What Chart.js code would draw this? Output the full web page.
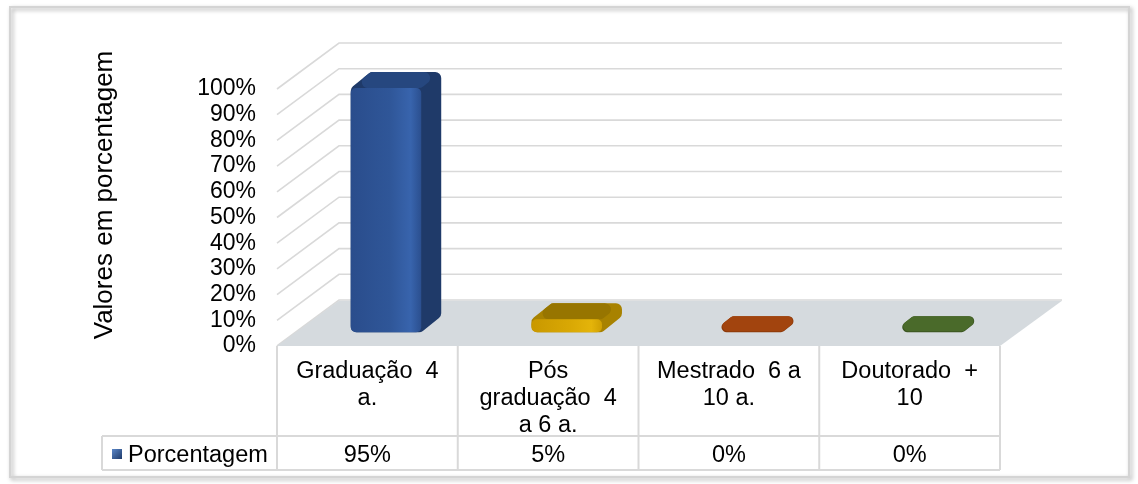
<!DOCTYPE html>
<html>
<head>
<meta charset="utf-8">
<script src="https://cdn.jsdelivr.net/npm/chart.js@4.4.1/dist/chart.umd.min.js"></script>
<style>
  html, body { margin: 0; padding: 0; background: #ffffff; }
  canvas { display: block; }
</style>
</head>
<body>
<canvas id="chart" width="1138" height="484"></canvas>
<script>
// Categories (multi-line labels as they wrap in the data table)
const categories = [
  ['Graduação  4', 'a.'],
  ['Pós', 'graduação  4', 'a 6 a.'],
  ['Mestrado  6 a', '10 a.'],
  ['Doutorado  +', '10']
];
const seriesName = 'Porcentagem';
const percentages = [95, 5, 0, 0];
const axisMin = 0;
const axisMax = 100;
const tickStep = 10;
const axisTitle = 'Valores em porcentagem';

// Face colours for each column: front gradient, side, top
const faceColors = [
  { front: ['#2a4d8c', '#2f5698', '#3864ad', '#2b4f8f'], side: '#1f3a69', top: '#26477f' },
  { front: ['#c99800', '#d9a804', '#e4b40a', '#cf9f02'], side: '#a88200', top: '#977500' },
  { front: ['#b04d12', '#b85314', '#c35c1a', '#b04d12'], side: '#8c3a0a', top: '#a2440e' },
  { front: ['#4f7030', '#557734', '#5c7f39', '#4f7030'], side: '#3c5622', top: '#4a6a2a' }
];

const FONT = "'Liberation Sans', Arial, Helvetica, sans-serif";
const WALL_DX = 62, WALL_DY = -46;      // depth of the 3-D box
const BAR_FRONT = 0.3;                   // bar front plane, fraction of depth
const BAR_DX = 20, BAR_DY = -16;         // bar thickness in depth

// polygon with rounded corners; radius clamped to half of the adjacent edges
function roundPoly(ctx, pts, r) {
  const n = pts.length;
  const len = (a, b) => Math.hypot(b[0] - a[0], b[1] - a[1]);
  const a = pts[n - 1], b = pts[0];
  ctx.beginPath();
  ctx.moveTo((a[0] + b[0]) / 2, (a[1] + b[1]) / 2);
  for (let i = 0; i < n; i++) {
    const prev = pts[(i - 1 + n) % n], p = pts[i], q = pts[(i + 1) % n];
    const rr = Math.min(r, len(prev, p) / 2, len(p, q) / 2);
    if (rr < 0.5) ctx.lineTo(p[0], p[1]);
    else ctx.arcTo(p[0], p[1], q[0], q[1], rr);
  }
  ctx.closePath();
}

const scene3d = {
  id: 'scene3d',
  beforeDraw(chart) {
    const ctx = chart.ctx;
    ctx.save();
    ctx.fillStyle = '#ffffff';
    ctx.fillRect(0, 0, chart.width, chart.height);
    // outer frame with soft shadow
    ctx.shadowColor = 'rgba(0,0,0,0.35)';
    ctx.shadowBlur = 4;
    ctx.shadowOffsetX = 2;
    ctx.shadowOffsetY = 2;
    ctx.strokeStyle = '#d4d4d4';
    ctx.lineWidth = 2;
    ctx.strokeRect(10, 7, 1119, 470);
    ctx.restore();
  },
  beforeDatasetsDraw(chart) {
    const ctx = chart.ctx;
    const ys = chart.scales.y;
    const { left, right, bottom } = chart.chartArea;
    ctx.save();
    // walls: back gridlines and side diagonals
    ctx.strokeStyle = '#d9d9d9';
    ctx.lineWidth = 1.6;
    for (let v = axisMin; v <= axisMax; v += tickStep) {
      const y = ys.getPixelForValue(v);
      ctx.beginPath();
      ctx.moveTo(left, y);
      ctx.lineTo(left + WALL_DX, y + WALL_DY);
      ctx.lineTo(right + WALL_DX, y + WALL_DY);
      ctx.stroke();
    }
    // floor
    ctx.fillStyle = '#d5dade';
    ctx.beginPath();
    ctx.moveTo(left, bottom);
    ctx.lineTo(right, bottom);
    ctx.lineTo(right + WALL_DX, bottom + WALL_DY + 0.8);
    ctx.lineTo(left + WALL_DX, bottom + WALL_DY + 0.8);
    ctx.closePath();
    ctx.fill();
    ctx.restore();
  },
  afterDatasetsDraw(chart) {
    const ctx = chart.ctx;
    const meta = chart.getDatasetMeta(0);
    const fx = WALL_DX * BAR_FRONT, fy = WALL_DY * BAR_FRONT;
    ctx.save();
    meta.data.forEach((el, i) => {
      const p = el.getProps(['x', 'y', 'base', 'width'], true);
      const c = faceColors[i];
      const x0 = p.x - p.width / 2 + fx, x1 = p.x + p.width / 2 + fx;
      const yb = p.base + fy;
      const yt = p.y + fy;
      const h = yb - yt;
      if (h < 2) {
        // empty column: only the flat cap lying on the floor
        ctx.fillStyle = c.side;
        roundPoly(ctx, [[x0, yb], [x1, yb], [x1 + BAR_DX, yb + BAR_DY], [x0 + BAR_DX, yb + BAR_DY]], 5);
        ctx.fill();
        ctx.fillStyle = c.top;
        roundPoly(ctx, [[x0 + 0.5, yb - 1], [x1, yb - 1], [x1 + BAR_DX, yb + BAR_DY], [x0 + BAR_DX, yb + BAR_DY]], 5);
        ctx.fill();
        return;
      }
      // silhouette / side face
      ctx.fillStyle = c.side;
      roundPoly(ctx, [[x0, yb], [x0, yt], [x0 + BAR_DX, yt + BAR_DY], [x1 + BAR_DX, yt + BAR_DY],
                      [x1 + BAR_DX, yb + BAR_DY], [x1, yb]], 6);
      ctx.fill();
      // top face
      ctx.fillStyle = c.top;
      roundPoly(ctx, [[x0, yt], [x0 + BAR_DX, yt + BAR_DY], [x1 + BAR_DX, yt + BAR_DY], [x1, yt]], 6);
      ctx.fill();
      // front face
      const g = ctx.createLinearGradient(x0, 0, x1, 0);
      g.addColorStop(0, c.front[0]);
      g.addColorStop(0.55, c.front[1]);
      g.addColorStop(0.85, c.front[2]);
      g.addColorStop(1, c.front[3]);
      ctx.fillStyle = g;
      roundPoly(ctx, [[x0, yt], [x1, yt], [x1, yb], [x0, yb]], 5);
      ctx.fill();
    });
    ctx.restore();

    drawTable(chart);
    drawAxisTitle(chart);
  }
};

function drawTable(chart) {
  const ctx = chart.ctx;
  const xs = chart.scales.x;
  const { left, right, bottom } = chart.chartArea;
  const n = categories.length;
  const cw = (right - left) / n;
  const headBottom = bottom + 90;
  const rowBottom = bottom + 124;
  const keyLeft = 102;
  ctx.save();
  ctx.strokeStyle = '#d9d9d9';
  ctx.lineWidth = 2;
  ctx.beginPath();
  for (let i = 0; i <= n; i++) {
    const x = left + i * cw;
    ctx.moveTo(x, bottom);
    ctx.lineTo(x, rowBottom);
  }
  ctx.moveTo(keyLeft, headBottom);
  ctx.lineTo(right, headBottom);
  ctx.moveTo(keyLeft, rowBottom);
  ctx.lineTo(right, rowBottom);
  ctx.moveTo(keyLeft, headBottom);
  ctx.lineTo(keyLeft, rowBottom);
  ctx.stroke();

  ctx.fillStyle = '#000000';
  ctx.font = '23.5px ' + FONT;
  ctx.textAlign = 'center';
  ctx.textBaseline = 'alphabetic';
  categories.forEach((lines, i) => {
    const cx = xs.getPixelForValue(i);
    lines.forEach((t, j) => ctx.fillText(t, cx, bottom + 32 + j * 27));
    ctx.fillText(percentages[i] + '%', cx, rowBottom - 8);
  });

  // legend key
  const kg = ctx.createLinearGradient(112, 449, 122, 459);
  kg.addColorStop(0, '#5a86c8');
  kg.addColorStop(1, '#1f3a69');
  ctx.fillStyle = kg;
  ctx.fillRect(112, 449, 10, 10);
  ctx.fillStyle = '#000000';
  ctx.textAlign = 'left';
  ctx.fillText(seriesName, 128, rowBottom - 8);
  ctx.restore();
}

function drawAxisTitle(chart) {
  const ctx = chart.ctx;
  ctx.save();
  ctx.translate(112, 195);
  ctx.rotate(-Math.PI / 2);
  ctx.fillStyle = '#000000';
  ctx.font = '26px ' + FONT;
  ctx.textAlign = 'center';
  ctx.textBaseline = 'alphabetic';
  ctx.fillText(axisTitle, 0, 0);
  ctx.restore();
}

new Chart(document.getElementById('chart'), {
  type: 'bar',
  data: {
    labels: categories,
    datasets: [{
      label: seriesName,
      data: percentages,
      backgroundColor: 'rgba(0,0,0,0)',
      borderWidth: 0,
      categoryPercentage: 1,
      barPercentage: 0.39
    }]
  },
  options: {
    responsive: false,
    animation: false,
    devicePixelRatio: 1,
    layout: { padding: { left: 0, right: 138, top: 89, bottom: 138 } },
    plugins: { legend: { display: false }, tooltip: { enabled: false } },
    scales: {
      x: { display: false },
      y: {
        min: axisMin,
        max: axisMax,
        afterFit(scale) { scale.width = 277; },
        grid: { display: false, drawTicks: false },
        border: { display: false },
        ticks: {
          stepSize: tickStep,
          autoSkip: false,
          padding: 21,
          color: '#000000',
          font: { family: FONT, size: 23 },
          callback: v => v + '%'
        }
      }
    }
  },
  plugins: [scene3d]
});
</script>
</body>
</html>
